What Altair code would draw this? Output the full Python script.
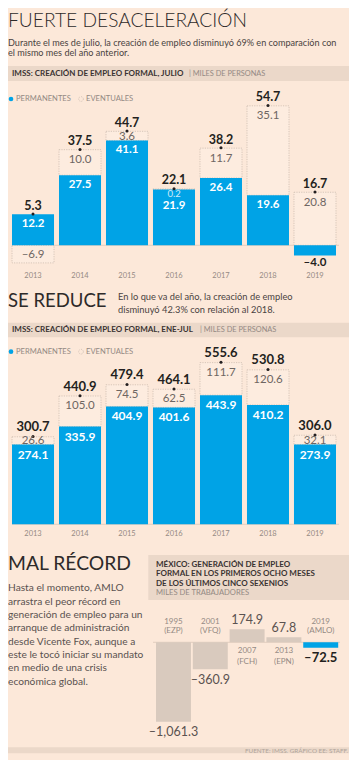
import altair as alt
import pandas as pd

# ---------------- data ----------------
years = ["2013", "2014", "2015", "2016", "2017", "2018", "2019"]
jul_perm = [12.2, 27.5, 41.1, 21.9, 26.4, 19.6, -4.0]
jul_event = [-6.9, 10.0, 3.6, 0.2, 11.7, 35.1, 20.8]
jul_total = [5.3, 37.5, 44.7, 22.1, 38.2, 54.7, 16.7]

ytd_perm = [274.1, 335.9, 404.9, 401.6, 443.9, 410.2, 273.9]
ytd_event = [26.6, 105.0, 74.5, 62.5, 111.7, 120.6, 32.1]
ytd_total = [300.7, 440.9, 479.4, 464.1, 555.6, 530.8, 306.0]

sex_years = ["1995", "2001", "2007", "2013", "2019"]
sex_party = ["(EZP)", "(VFQ)", "(FCH)", "(EPN)", "(AMLO)"]
sex_values = [-1061.3, -360.9, 174.9, 67.8, -72.5]

# ---------------- style ----------------
FONT = "Lato"
LIGHTFONT = "Lato Light, Lato"
BLUE = "#00A3E6"
BG = "#FCE8D9"
BAND = "#EBD8C9"
DARK = "#231F20"
GRAY = "#6E6662"
LIGHT = "#948A84"
BOXFILL = "#FDECDF"
BOXLINE = "#CDBCB0"
GRAYBAR = "#D9CABE"

W, H = 341, 752
one = pd.DataFrame({"k": [0]})


def fmt(v, comma=False):
    s = f"{v:,.1f}" if comma else f"{v:.1f}"
    return s.replace("-", "\u2013")


def T(text, x, y, size, color, weight="normal", align="left", baseline="middle", font=FONT):
    return alt.Chart(one).mark_text(
        text=text, align=align, baseline=baseline, font=font,
        fontSize=size, fontWeight=weight, color=color
    ).encode(x=alt.value(x), y=alt.value(y))


def R(x0, x1, y0, y1, color):
    return alt.Chart(one).mark_rect(color=color).encode(
        x=alt.value(x0), x2=alt.value(x1), y=alt.value(y0), y2=alt.value(y1))


def stacked_panel(perm, event, total, zero_px, ppu, dom, year_y, fs, tot_off):
    xs = alt.Scale(type="band", domain=years, range=[4, 328], paddingInner=0.106, paddingOuter=0)
    ys = alt.Scale(domain=dom, range=[zero_px - dom[0] * ppu, zero_px - dom[1] * ppu],
                   nice=False, zero=False)
    rows = []
    for yr, p, e, t in zip(years, perm, event, total):
        p0, p1 = 0.0, p
        if (e >= 0) == (p >= 0):
            e0, e1 = p, p + e
        else:
            e0, e1 = 0.0, e
        top = max(p1, e0, e1, 0.0)
        etop = max(e0, e1)
        h = abs(e) * ppu
        small = 0
        if h < 2:
            ey = p1 - 4.5 / ppu
            ec = "#CFEAF8"
            py = p1 - 17.0 / ppu
            small = 1
        else:
            ey = etop - min(10.5, h / 2 + 0.7) / ppu
            ec = GRAY
            py = p1 - 10.0 / ppu
        if p < 0:
            py = p1 - 7.5 / ppu
        pc = "#FFFFFF" if p > 0 else DARK
        rows.append(dict(year=yr, p0=p0, p1=p1, e0=e0, e1=e1,
                         dot=top + 0.3 / ppu, ty=top + tot_off / ppu, tl=fmt(t),
                         py=py, pl=fmt(p), pc=pc, ey=ey, el=fmt(e), ec=ec, small=small))
    df = pd.DataFrame(rows)
    X = alt.X("year:N", scale=xs, axis=None)

    def Y(f):
        return alt.Y(f"{f}:Q", scale=ys, axis=None)

    base = alt.Chart(df)
    zero = alt.Chart(pd.DataFrame({"v": [0.0]})).mark_rule(color="#E2CEBF", strokeWidth=1).encode(
        y=Y("v"), x=alt.value(4), x2=alt.value(331))
    boxes = base.mark_rect(fill=BOXFILL, stroke=BOXLINE, strokeWidth=0.8,
                           strokeDash=[1.2, 1.2]).encode(x=X, y=Y("e0"), y2=alt.Y2("e1"))
    bars = base.mark_bar(color=BLUE).encode(x=X, y=Y("p0"), y2=alt.Y2("p1"))
    dots = base.mark_circle(size=9, color=DARK, opacity=1).encode(x=X, y=Y("dot"))
    tot = base.mark_text(font=FONT, fontSize=fs[0], fontWeight="bold", color=DARK,
                         baseline="middle").encode(x=X, y=Y("ty"), text="tl:N")
    pl = base.mark_text(font=FONT, fontSize=fs[1], fontWeight="bold",
                        baseline="middle").encode(
        x=X, y=Y("py"), text="pl:N", color=alt.Color("pc:N", scale=None))
    el = base.transform_filter("datum.small == 0").mark_text(
        font=FONT, fontSize=fs[2], baseline="middle").encode(
        x=X, y=Y("ey"), text="el:N", color=alt.Color("ec:N", scale=None))
    el_small = base.transform_filter("datum.small == 1").mark_text(
        font=FONT, fontSize=9.5, baseline="middle").encode(
        x=X, y=Y("ey"), text="el:N", color=alt.Color("ec:N", scale=None))
    yl = base.mark_text(font=FONT, fontSize=7.5, color=LIGHT, baseline="middle").encode(
        x=X, y=alt.value(year_y), text="year:N")
    return [zero, boxes, bars, dots, el, el_small, pl, tot, yl]


def sex_panel():
    ppu = 0.0748
    zero_px = 634.3
    dom = [-1200, 300]
    xs = alt.Scale(type="band", domain=sex_years, range=[148, 330.2], paddingInner=0.05, paddingOuter=0)
    ys = alt.Scale(domain=dom, range=[zero_px - dom[0] * ppu, zero_px - dom[1] * ppu],
                   nice=False, zero=False)
    rows = []
    n = len(sex_years)
    for i, (yr, pa, v) in enumerate(zip(sex_years, sex_party, sex_values)):
        rows.append(dict(
            year=yr, party=pa, v0=0.0, v1=v,
            col=BLUE if i == n - 1 else GRAYBAR,
            hl=1 if i == n - 1 else 0,
            vy=(v - 10.5 / ppu) if v < 0 else (v + 9.0 / ppu),
            vl=fmt(v, comma=True),
            y1=(20.3 / ppu) if v < 0 else (-8.7 / ppu),
            y2=(11.6 / ppu) if v < 0 else (-19.4 / ppu),
        ))
    df = pd.DataFrame(rows)
    X = alt.X("year:N", scale=xs, axis=None)

    def Y(f):
        return alt.Y(f"{f}:Q", scale=ys, axis=None)

    base = alt.Chart(df)
    zero = alt.Chart(pd.DataFrame({"v": [0.0]})).mark_rule(color="#E2CEBF", strokeWidth=1).encode(
        y=Y("v"), x=alt.value(145), x2=alt.value(332))
    bars = base.mark_bar().encode(x=X, y=Y("v0"), y2=alt.Y2("v1"),
                                  color=alt.Color("col:N", scale=None))
    vals = base.transform_filter("datum.hl == 0").mark_text(
        font=FONT, fontSize=12.5, color="#5A5250", baseline="middle").encode(
        x=X, y=Y("vy"), text="vl:N")
    valh = base.transform_filter("datum.hl == 1").mark_text(
        font=FONT, fontSize=13, fontWeight="bold", color=DARK, baseline="middle").encode(
        x=X, y=Y("vy"), text="vl:N")
    yr1 = base.mark_text(font=FONT, fontSize=8, color=LIGHT, baseline="middle").encode(
        x=X, y=Y("y1"), text="year:N")
    yr2 = base.mark_text(font=FONT, fontSize=8, color=LIGHT, baseline="middle").encode(
        x=X, y=Y("y2"), text="party:N")
    return [zero, bars, vals, valh, yr1, yr2]


def legend(y):
    return [
        alt.Chart(one).mark_point(filled=True, size=22, color=BLUE, opacity=1).encode(
            x=alt.value(3), y=alt.value(y)),
        T("PERMANENTES", 8, y, 7.6, LIGHT),
        alt.Chart(one).mark_point(filled=False, size=22, color="#C9BAAE", strokeWidth=0.8,
                                  strokeDash=[1, 1], opacity=1).encode(
            x=alt.value(73), y=alt.value(y)),
        T("EVENTUALES", 78, y, 7.6, LIGHT),
    ]


layers = []
# ---- section 1 ----
layers += [
    T("FUERTE DESACELERACIÓN", 0, 19, 19.2, "#2E2A29", weight=300, baseline="alphabetic",
      font=LIGHTFONT),
    T("Durante el mes de julio, la creación de empleo disminuyó 69% en comparación con",
      0, 38, 9.1, "#4A4341", baseline="alphabetic"),
    T("el mismo mes del año anterior.", 0, 48, 9.1, "#4A4341", baseline="alphabetic"),
    R(0, 341, 58, 73, BAND),
    T("IMSS: CREACIÓN DE EMPLEO FORMAL, JULIO", 4, 65.5, 8.0, "#3A3332", weight="bold"),
    T("| MILES DE PERSONAS", 181, 65.5, 7.4, LIGHT),
]
layers += legend(91)
layers += stacked_panel(jul_perm, jul_event, jul_total, 237.3, 2.55, [-10, 60], 268,
                        (12.5, 11.5, 11.5), 8.6)

# ---- section 2 ----
layers += [
    T("SE REDUCE", 0, 299.3, 18.5, "#2E2A29", weight="normal", baseline="alphabetic"),
    T("En lo que va del año, la creación de empleo", 110, 291.5, 9.3, "#4A4341", baseline="alphabetic"),
    T("disminuyó 42.3% con relación al 2018.", 110, 305, 9.3, "#4A4341", baseline="alphabetic"),
    R(0, 341, 314.7, 329.3, BAND),
    T("IMSS: CREACIÓN DE EMPLEO FORMAL, ENE-JUL", 4, 322, 8.0, "#3A3332", weight="bold"),
    T("| MILES DE PERSONAS", 192, 322, 7.4, LIGHT),
]
layers += legend(343.7)
layers += stacked_panel(ytd_perm, ytd_event, ytd_total, 516.3, 0.291, [0, 600], 526,
                        (13, 12, 11.5), 9.4)

# ---- section 3 ----
para = [
    "Hasta el momento, AMLO",
    "arrastra el peor récord en",
    "generación de empleo para un",
    "arranque de administración",
    "desde Vicente Fox, aunque a",
    "este le tocó iniciar su mandato",
    "en medio de una crisis",
    "económica global.",
]
layers += [T("MAL RÉCORD", 0, 562, 19.3, "#2E2A29", baseline="alphabetic")]
for i, line in enumerate(para):
    layers.append(T(line, 0, 583.3 + i * 13.35, 10.2, "#5A5250", baseline="alphabetic"))
layers += [
    R(140.3, 341, 547, 592, BAND),
    T("MÉXICO: GENERACIÓN DE EMPLEO", 148, 557, 8.0, "#3A3332", weight="bold"),
    T("FORMAL EN LOS PRIMEROS OCHO MESES", 148, 566.3, 8.0, "#3A3332", weight="bold"),
    T("DE LOS ÚLTIMOS CINCO SEXENIOS", 148, 575.7, 8.0, "#3A3332", weight="bold"),
    T("MILES DE TRABAJADORES", 148, 585.3, 7.6, LIGHT),
]
layers += sex_panel()
layers += [
    R(0, 341, 739.3, 745.3, BAND),
    T("FUENTE: IMSS. GRÁFICO EE: STAFF.", 340, 742.5, 6.3, "#B0A49A", align="right"),
]

chart = alt.layer(*layers).properties(
    width=W, height=H,
    autosize=alt.AutoSizeParams(type="none"),
    padding=0,
    background=BG,
).resolve_scale(x="independent", y="independent", color="independent").configure_view(stroke=None)

chart.save("out.html", embed_options={"renderer": "svg", "actions": False})
